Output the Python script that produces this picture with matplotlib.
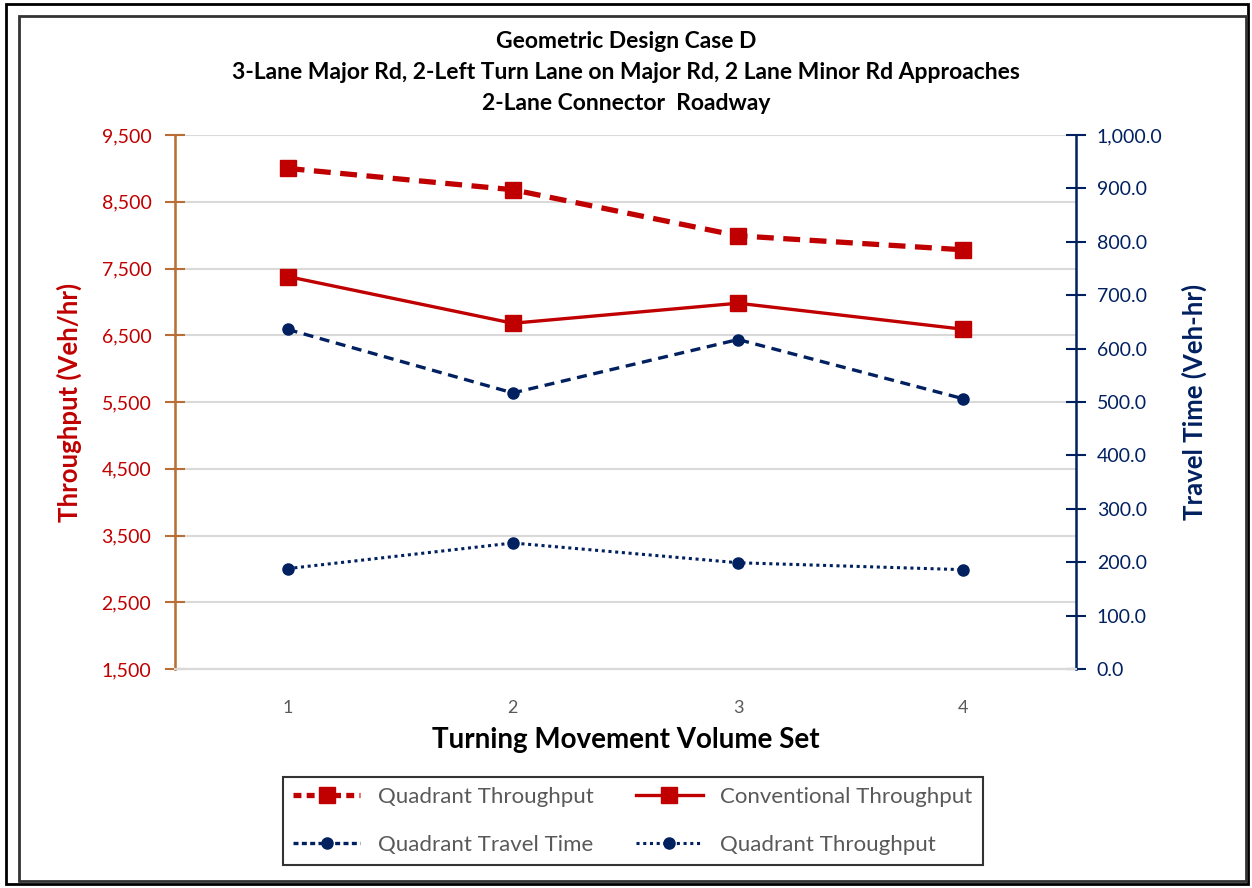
import matplotlib.pyplot as plt
from matplotlib.lines import Line2D
from matplotlib.patches import Rectangle
from matplotlib.ticker import FuncFormatter

plt.rcParams['font.family'] = ['Lato', 'DejaVu Sans']

# Datos por conjunto de volumenes de giro
volume_set = [1, 2, 3, 4]
quad_throughput = [9000, 8680, 7990, 7780]
conv_throughput = [7380, 6680, 6980, 6590]
quad_travel_time = [636, 517, 617, 506]
conv_travel_time = [188, 236, 199, 186]

red = '#C00000'
navy = '#002060'
brown = '#B86E35'

fig = plt.figure(figsize=(12.52, 8.88), dpi=100)
ax = fig.add_axes([175 / 1252, 1 - 669 / 888, 901 / 1252, 534 / 888])
ax2 = ax.twinx()

# Marcos del grafico
fig.patches.append(Rectangle((6 / 1252, 4 / 888), 1242 / 1252, 880 / 888, transform=fig.transFigure,
                             fill=False, edgecolor='black', lw=2))
fig.patches.append(Rectangle((19 / 1252, 7 / 888), 1227 / 1252, 865 / 888, transform=fig.transFigure,
                             fill=False, edgecolor='#333333', lw=2))

ax.plot(volume_set, quad_throughput, color=red, lw=3.8, dashes=(3.2, 1.8),
        marker='s', ms=11, zorder=5)
ax.plot(volume_set, conv_throughput, color=red, lw=2.4, marker='s', ms=11, zorder=5)
ax2.plot(volume_set, quad_travel_time, color=navy, lw=2.4, dashes=(3, 2),
         marker='o', ms=8, zorder=5)
ax2.plot(volume_set, conv_travel_time, color=navy, lw=2.2, dashes=(1, 1.2),
         marker='o', ms=8, zorder=5)

# Eje izquierdo (throughput)
ax.set_xlim(0.5, 4.5)
ax.set_ylim(1500, 9500)
ax.set_yticks(range(1500, 9501, 1000))
ax.yaxis.set_major_formatter(FuncFormatter(lambda v, p: f'{v:,.0f}'))
ax.grid(axis='y', color='#D9D9D9', lw=1.5)
ax.set_axisbelow(True)
ax.set_xticks(volume_set)
ax.tick_params(axis='x', length=0, labelsize=13, labelcolor='#595959', pad=22)
ax.tick_params(axis='y', direction='inout', length=14, width=1.5, color=brown,
               labelsize=14, labelcolor=red, pad=10)
ax.set_ylabel('Throughput (Veh/hr)', color=red, fontsize=18.5, fontweight='bold', labelpad=14)
ax.set_xlabel('Turning Movement Volume Set', fontsize=20, fontweight='bold', labelpad=8)

# Eje derecho (tiempo de viaje)
ax2.set_ylim(0, 1000)
ax2.set_yticks(range(0, 1001, 100))
ax2.yaxis.set_major_formatter(FuncFormatter(lambda v, p: f'{v:,.1f}'))
ax2.tick_params(axis='y', direction='inout', length=14, width=1.5, color=navy,
                labelsize=14, labelcolor=navy, pad=8)
ax2.set_ylabel('Travel Time (Veh-hr)', color=navy, fontsize=18.5, fontweight='bold', labelpad=14)

for a in (ax, ax2):
    a.spines['top'].set_visible(False)
    a.spines['bottom'].set_color('#D9D9D9')
    a.spines['bottom'].set_linewidth(1.5)
ax.spines['right'].set_visible(False)
ax2.spines['left'].set_color(brown)
ax2.spines['left'].set_linewidth(1.8)
ax2.spines['right'].set_color(navy)
ax2.spines['right'].set_linewidth(1.8)

fig.text(0.50, 1 - 42 / 888, 'Geometric Design Case D', ha='center', va='center',
         fontsize=16.5, fontweight='bold')
fig.text(0.50, 1 - 72 / 888, '3-Lane Major Rd, 2-Left Turn Lane on Major Rd, 2 Lane Minor Rd Approaches',
         ha='center', va='center', fontsize=16.5, fontweight='bold')
fig.text(0.50, 1 - 103 / 888, '2-Lane Connector  Roadway', ha='center', va='center',
         fontsize=16.5, fontweight='bold')

handles = [
    Line2D([], [], color=red, lw=3.8, dashes=(1.5, 1), marker='s', ms=11),
    Line2D([], [], color=navy, lw=2.4, dashes=(1.5, 1), marker='o', ms=8),
    Line2D([], [], color=red, lw=2.4, marker='s', ms=11),
    Line2D([], [], color=navy, lw=2.2, dashes=(1, 1.2), marker='o', ms=8),
]
labels = ['Quadrant Throughput', 'Quadrant Travel Time',
          'Conventional Throughput', 'Quadrant Throughput']
leg = fig.legend(handles, labels, ncol=2, loc='center', bbox_to_anchor=(633 / 1252, 1 - 821 / 888),
                 fontsize=16, frameon=True, fancybox=False, edgecolor='black',
                 handlelength=3.0, columnspacing=1.9, labelspacing=1.25, labelcolor='#595959',
                 borderpad=0.45)
leg.get_frame().set_linewidth(1.5)

fig.savefig('out.png', dpi=100)
